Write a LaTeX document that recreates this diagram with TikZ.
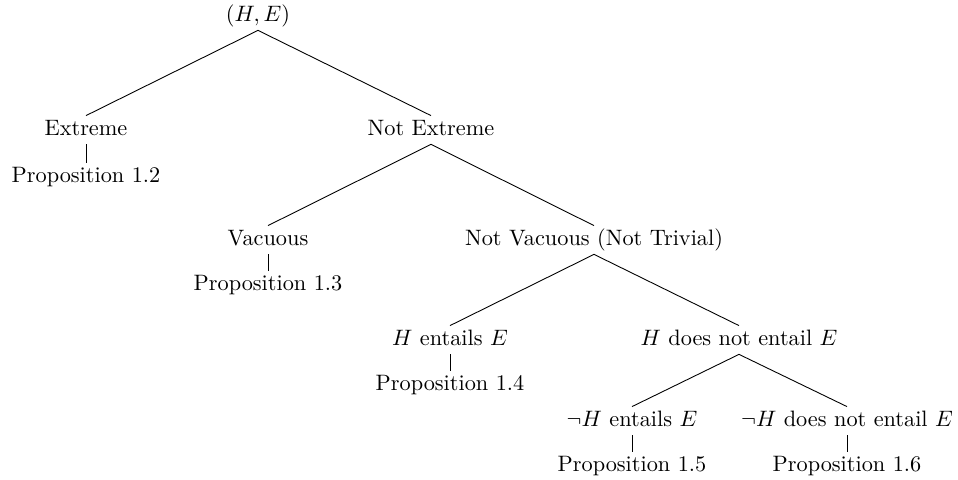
\documentclass[tikz,border=0pt]{standalone}
\begin{document}
\begin{tikzpicture}[x=0.4484pt,y=-0.4484pt,
  lbl/.style={anchor=base,inner sep=2pt,text height=6.5pt,text depth=2pt},
  edge/.style={draw=black,line width=0.4pt}]
\useasboundingbox (0,0) rectangle (958,479);
\node[lbl] (root) at (258,21) {$(H,E)$};
\node[lbl] (ext) at (86,135) {Extreme};
\node[lbl] (p12) at (86,182) {Proposition 1.2};
\node[lbl] (next) at (431,135) {Not Extreme};
\node[lbl] (vac) at (268,245) {Vacuous};
\node[lbl] (p13) at (268,290) {Proposition 1.3};
\node[lbl] (nvac) at (594,245) {Not Vacuous (Not Trivial)};
\node[lbl] (hent) at (450,345) {$H$ entails $E$};
\node[lbl] (p14) at (450,390) {Proposition 1.4};
\node[lbl] (hnent) at (739,345) {$H$ does not entail $E$};
\node[lbl] (nhent) at (632,426) {$\neg H$ entails $E$};
\node[lbl] (p15) at (632,471) {Proposition 1.5};
\node[lbl] (nhnent) at (847,426) {$\neg H$ does not entail $E$};
\node[lbl] (p16) at (847,471) {Proposition 1.6};
\draw[edge] (root.south) -- (ext.north);
\draw[edge] (root.south) -- (next.north);
\draw[edge] (ext.south) -- (p12.north);
\draw[edge] (next.south) -- (vac.north);
\draw[edge] (next.south) -- (nvac.north);
\draw[edge] (vac.south) -- (p13.north);
\draw[edge] (nvac.south) -- (hent.north);
\draw[edge] (nvac.south) -- (hnent.north);
\draw[edge] (hent.south) -- (p14.north);
\draw[edge] (hnent.south) -- (nhent.north);
\draw[edge] (hnent.south) -- (nhnent.north);
\draw[edge] (nhent.south) -- (p15.north);
\draw[edge] (nhnent.south) -- (p16.north);
\end{tikzpicture}
\end{document}
